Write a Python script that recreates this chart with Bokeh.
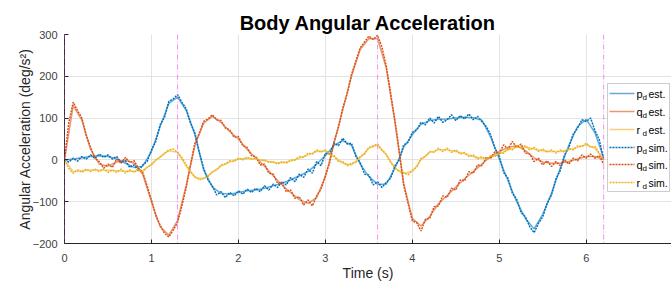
import numpy as np
from bokeh.plotting import figure
from bokeh.models import Range1d, FixedTicker, Span, Label, Arrow, BoxAnnotation, Title
from bokeh.embed import file_html
from bokeh.resources import INLINE

# ---------------- data ----------------
t_est = np.round(np.arange(0, 6.2001, 0.1), 2)
t_sim = np.round(np.arange(0, 6.2001, 0.05), 2)

p_est = [0, 2, 5, 8, 10, 8, 2, -8, -18, -15,
         20, 80, 135, 150, 118, 60, -24, -65, -80, -82,
         -78, -74, -72, -68, -62, -56, -48, -38, -28, -10,
         10, 35, 46, 35, -10, -40, -58, -58, -20, 30,
         60, 85, 94, 97, 98, 100, 102, 101, 95, 55,
         2, -50, -100, -140, -165, -130, -80, -20, 35, 80,
         97, 65, 5]
q_est = [0, 130, 95, 25, -10, -15, -5, 0, -8, -35,
         -100, -160, -180, -145, -60, 35, 88, 104, 90, 68,
         50, 25, 5, -15, -38, -60, -78, -95, -104, -90,
         -40, 40, 120, 200, 264, 290, 290, 220, 90, -56,
         -140, -158, -135, -105, -85, -65, -45, -28, -10, 8,
         20, 30, 34, 22, 5, -5, -8, -8, -4, 2,
         8, 8, 0]
r_est = [0, -28, -26, -24, -24, -25, -26, -27, -27, -25,
         -10, 8, 22, 18, -15, -42, -45, -30, -15, -5,
         2, 4, 2, -2, -6, -7, -3, 4, 12, 20,
         22, 8, -8, -12, 5, 28, 35, 12, -20, -32,
         -28, 0, 18, 24, 24, 20, 15, 8, 4, 6,
         14, 24, 30, 30, 26, 22, 20, 20, 24, 30,
         36, 28, 0]

p_sim = [0, -5, 4, -3, 8, 2, 12, 4, 14, 6, 12, 2, 8, -6, -2, -18, -12, -26, -12, -4,
         24, 44, 84, 102, 140, 146, 156, 138, 122, 88, 64, 18, -20, -48, -62, -84, -76, -90, -78, -86,
         -74, -82, -70, -78, -68, -76, -62, -72, -58, -66, -52, -60, -42, -52, -34, -42, -22, -32, -4, -14,
         16, 14, 40, 34, 52, 38, 40, 8, -6, -34, -36, -60, -52, -66, -54, -44, -14, 0, 36, 42,
         66, 72, 90, 84, 100, 88, 104, 90, 96, 108, 94, 106, 98, 110, 96, 104, 92, 80, 60, 28,
         8, -30, -44, -80, -94, -126, -136, -160, -174, -152, -136, -104, -84, -46, -26, 12, 30, 62, 76, 96,
         92, 100, 70, 48, 0]
q_sim = [0, 90, 138, 118, 100, 58, 30, 4, -4, -20, -10, -18, 2, -8, 6, -6, -2, -20, -30, -62,
         -96, -134, -156, -176, -184, -168, -150, -110, -66, -10, 40, 64, 92, 98, 108, 96, 94, 76, 72, 54,
         56, 34, 30, 10, 8, -12, -10, -32, -34, -56, -54, -76, -72, -92, -88, -108, -96, -110, -86, -70,
         -38, -6, 44, 78, 124, 158, 204, 236, 268, 282, 296, 288, 298, 270, 224, 160, 94, 20, -60, -104,
         -146, -150, -170, -142, -140, -112, -110, -86, -90, -68, -72, -48, -50, -28, -32, -12, -14, 6, 4, 20,
         16, 36, 26, 44, 30, 38, 16, 14, -4, 4, -12, -2, -16, -4, -14, 0, -10, 4, -2, 12,
         4, 14, 4, 10, -10]
r_sim = [0, -20, -32, -24, -30, -22, -28, -22, -28, -22, -30, -24, -30, -22, -32, -24, -30, -22, -28, -18,
         -12, 0, 6, 16, 24, 26, 18, 6, -12, -28, -40, -48, -44, -40, -28, -24, -12, -10, -2, -4,
         4, 0, 6, 2, 4, -2, 0, -6, -4, -10, -4, -8, 0, 0, 8, 6, 16, 14, 24, 18,
         24, 12, 10, -4, -4, -14, -8, -6, 8, 14, 30, 34, 38, 24, 14, -6, -18, -28, -30, -36,
         -24, -18, 4, 8, 20, 18, 28, 20, 28, 18, 24, 14, 18, 8, 12, 2, 8, 0, 10, 8,
         18, 16, 28, 24, 34, 28, 34, 24, 30, 20, 26, 18, 24, 16, 24, 18, 28, 24, 34, 32,
         40, 30, 32, 16, 0]

event_times = [0, 1.3, 3.6, 6.2]
x_ticks = [0, 1, 2, 3, 4, 5, 6, 7]
y_ticks = [-200, -100, 0, 100, 200, 300]

legend_names = ["p", "q", "r"]
legend_kinds = ["est.", "est.", "est.", "sim.", "sim.", "sim."]

BLUE, ORANGE, YELLOW = "#0072BD", "#D95319", "#EDB120"
colors = [BLUE, ORANGE, YELLOW]
FONT = "Liberation Sans"

# ---------------- figure ----------------
p = figure(width=671, height=283, x_range=Range1d(0, 6.98), y_range=Range1d(-200, 300),
           output_backend="svg", toolbar_location=None,
           min_border_left=0, min_border_right=0, min_border_top=0, min_border_bottom=0)
p.outline_line_color = None
p.background_fill_color = "white"
p.title = None

# title (closest to frame) then a blank spacer above it
p.add_layout(Title(text="Body Angular Acceleration", align="center", text_font=FONT,
                   text_font_size="20px", text_font_style="bold", text_color="#000000",
                   standoff=2), "above")
p.add_layout(Title(text=" ", text_font_size="6px", standoff=0), "above")

for ax in (p.xaxis[0], p.yaxis[0]):
    ax.axis_line_color = "#262626"
    ax.major_tick_in = 4
    ax.major_tick_out = 0
    ax.major_tick_line_color = "#262626"
    ax.minor_tick_in = 0
    ax.minor_tick_out = 0
    ax.major_label_text_font = FONT
    ax.major_label_text_font_size = "11px"
    ax.major_label_text_color = "#404040"
    ax.axis_label_text_font = FONT
    ax.axis_label_text_font_size = "14px"
    ax.axis_label_text_font_style = "normal"
    ax.axis_label_text_color = "#262626"

p.xaxis.ticker = FixedTicker(ticks=x_ticks)
p.yaxis.ticker = FixedTicker(ticks=y_ticks)
p.xaxis.axis_label = "Time (s)"
p.yaxis.axis_label = "Angular Acceleration (deg/s²)"
p.xaxis.major_label_standoff = 10
p.yaxis.major_label_standoff = 7
p.xaxis.axis_label_standoff = 0
p.yaxis.axis_label_standoff = -3

# blank spacer on the far left
p.add_layout(Title(text=" ", text_font_size="8px", standoff=2), "left")

p.xgrid.ticker = FixedTicker(ticks=x_ticks)
p.ygrid.ticker = FixedTicker(ticks=y_ticks)
p.grid.grid_line_color = "#e3e3e3"
p.grid.grid_line_width = 1

# event markers
for te in event_times:
    p.add_layout(Span(location=te, dimension="height", line_color="#f060f0",
                      line_alpha=0.7, line_width=1, line_dash="5 2 1 2"))

# estimated (solid)
for ys, c in zip([p_est, q_est, r_est], colors):
    p.line(t_est, ys, line_color=c, line_width=1.5, line_alpha=0.6)
# simulated (dotted)
for ys, c in zip([p_sim, q_sim, r_sim], colors):
    p.line(t_sim, ys, line_color=c, line_width=1.5, line_dash="2 1")

# ---------------- legend (screen units, relative to frame) ----------------
box_l, box_r, box_b, box_t = 543, 605, 52, 160
p.add_layout(BoxAnnotation(left=box_l, right=box_r, bottom=box_b, top=box_t,
                           left_units="screen", right_units="screen",
                           top_units="screen", bottom_units="screen",
                           fill_color="white", fill_alpha=1.0,
                           line_color="#5a5a5a", line_width=1))
row_y = [150, 132, 114, 96, 79, 61]
for i, ry in enumerate(row_y):
    c = colors[i % 3]
    dash = "solid" if i < 3 else "2 1"
    alpha = 0.6 if i < 3 else 1.0
    p.add_layout(Arrow(end=None, x_start=545, y_start=ry, x_end=570, y_end=ry,
                       start_units="screen", end_units="screen",
                       line_color=c, line_width=1.5, line_alpha=alpha, line_dash=dash))
    p.add_layout(Label(x=572, y=ry, x_units="screen", y_units="screen",
                       text=legend_names[i % 3], text_font=FONT, text_font_size="11px",
                       text_baseline="middle", text_color="#000000"))
    p.add_layout(Label(x=578, y=ry - 4, x_units="screen", y_units="screen",
                       text="d", text_font=FONT, text_font_size="8px",
                       text_baseline="middle", text_color="#000000"))
    p.add_layout(Label(x=584, y=ry, x_units="screen", y_units="screen",
                       text=legend_kinds[i], text_font=FONT, text_font_size="10.5px",
                       text_baseline="middle", text_color="#000000"))

open("out.html", "w").write(file_html(p, INLINE))
